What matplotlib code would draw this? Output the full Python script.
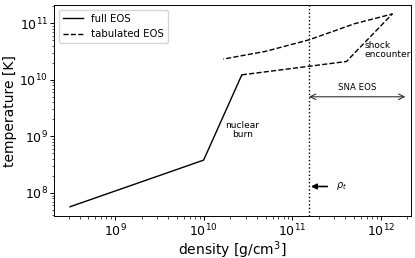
import numpy as np
import matplotlib
matplotlib.use("Agg")
import matplotlib.pyplot as plt

## data
# full EOS track
full_rho = [3.1e8, 1.0e10, 2.7e10]
full_T = [5.7e7, 3.8e8, 1.22e10]
# tabulated EOS track
tab_rho = [2.7e10, 4.1e11, 1.35e12, 5.1e11, 1.55e11, 4.95e10, 1.67e10]
tab_T = [1.22e10, 2.1e10, 1.45e11, 9.8e10, 5.07e10, 3.16e10, 2.32e10]
# transition density
rho_t = 1.55e11
sna_end = 1.9e12

## figure
fig = plt.figure(figsize=(4.15, 2.58), dpi=100)
ax = fig.add_axes([0.130, 0.161, 0.860, 0.820])

ax.plot(full_rho, full_T, "k-", lw=1.0, label="full EOS")
ax.plot(tab_rho, tab_T, "k--", lw=1.0, label="tabulated EOS")
ax.axvline(rho_t, color="k", ls=":", lw=1.0)

ax.set_xscale("log")
ax.set_yscale("log")
ax.set_xlim(2.04e8, 2.19e12)
ax.set_ylim(3.84e7, 2.1e11)

# annotations
ax.annotate("", xy=(rho_t, 5.0e9), xytext=(sna_end, 5.0e9),
            arrowprops=dict(arrowstyle="<->", color="0.2", lw=0.8,
                            shrinkA=0, shrinkB=0))
ax.text(5.4e11, 7.2e9, "SNA EOS", fontsize=6.2, ha="center", va="center")
ax.text(6.5e11, 3.4e10, "shock\nencounter", fontsize=6.5, ha="left",
        va="center", linespacing=1.0)
ax.text(2.75e10, 1.3e9, "nuclear\nburn", fontsize=6.5, ha="center",
        va="center", linespacing=1.0)
ax.annotate(r"$\rho_t$", xy=(rho_t * 1.05, 1.3e8), xytext=(3.1e11, 1.3e8),
            fontsize=7, va="center",
            arrowprops=dict(arrowstyle="-|>", color="k", lw=1.2,
                            shrinkA=4, shrinkB=0, mutation_scale=8))

ax.set_xlabel("density [g/cm$^3$]", fontsize=10, labelpad=0)
ax.set_ylabel("temperature [K]", fontsize=10, labelpad=1.5)
ax.tick_params(which="major", labelsize=9, length=3, width=0.7, pad=1.3)
ax.tick_params(which="minor", length=1.8, width=0.5)
for sp in ax.spines.values():
    sp.set_linewidth(0.7)
ax.legend(loc="upper left", fontsize=7.3)

fig.savefig("out.png", dpi=100)
